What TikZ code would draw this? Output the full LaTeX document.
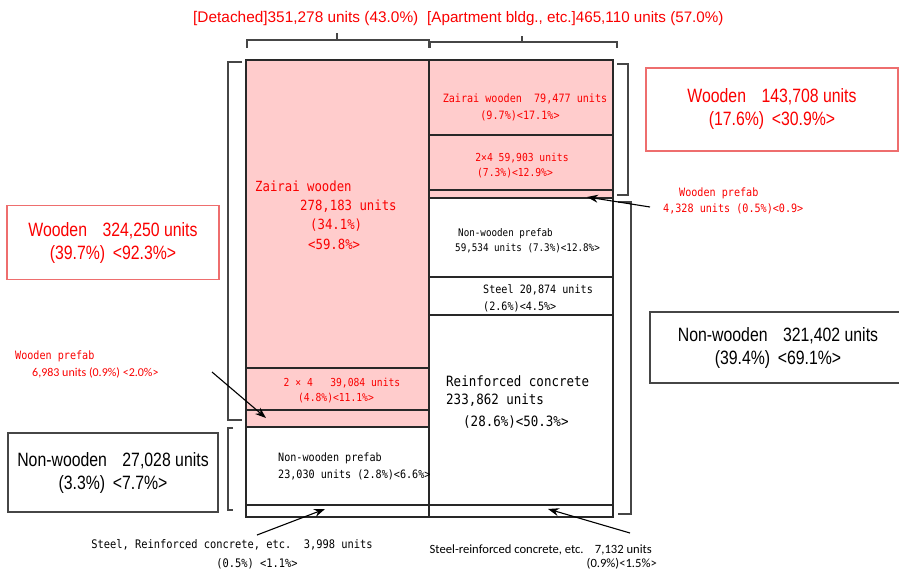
\documentclass[tikz,border=0pt]{standalone}
\usepackage{fontspec}
\setmainfont{Liberation Sans}
\newfontfamily\boxfont[FakeStretch=0.82]{Liberation Sans}
\newfontfamily\gothic[FakeStretch=0.88]{DejaVu Sans Mono}
\newfontfamily\calib{Carlito}
\usetikzlibrary{arrows.meta}
\definecolor{pinkc}{RGB}{255,204,204}
\definecolor{redt}{RGB}{250,0,0}
\definecolor{redbox}{RGB}{238,110,110}
\definecolor{cellline}{RGB}{40,40,40}
\definecolor{brk}{RGB}{70,70,70}
\tikzset{
  cellbox/.style={draw=cellline, line width=1.1pt},
  pinkbox/.style={cellbox, fill=pinkc},
  bracketline/.style={draw=brk, line width=1.1pt},
  sumred/.style={draw=redbox, line width=1.3pt, text=redt, align=center, inner sep=0pt,
    font=\boxfont\fontsize{19.3}{23}\selectfont},
  sumblack/.style={draw=brk, line width=1.3pt, text=black, align=center, inner sep=0pt,
    font=\boxfont\fontsize{19.3}{23}\selectfont},
  lbl/.style={inner sep=0pt, anchor=west, align=left},
  clbl/.style={inner sep=0pt, align=center},
  ptr/.style={draw=black, line width=1.1pt, -{Stealth[length=11pt,width=8pt]}},
}
\begin{document}
\begin{tikzpicture}[x=1pt,y=-1pt]
\useasboundingbox (0,0) rectangle (899,571);

% ---- left column (detached)
\draw[pinkbox] (246,60) rectangle (429,368);
\draw[pinkbox] (246,368) rectangle (429,410);
\draw[pinkbox] (246,410) rectangle (429,427);
\draw[cellbox] (246,427) rectangle (429,505);
\draw[cellbox] (246,505) rectangle (429,517);
% ---- right column (apartments)
\draw[pinkbox] (429,60) rectangle (613,135);
\draw[pinkbox] (429,135) rectangle (613,190);
\draw[pinkbox] (429,190) rectangle (613,198);
\draw[cellbox] (429,198) rectangle (613,277);
\draw[cellbox] (429,277) rectangle (613,315);
\draw[cellbox] (429,315) rectangle (613,505);
\draw[cellbox] (429,505) rectangle (613,517);

% ---- brackets
\draw[bracketline] (247,48) -- (247,40) -- (429,40) -- (429,48);
\draw[bracketline] (337,40) -- (337,33);
\draw[bracketline] (430,48) -- (430,42) -- (617,42) -- (617,48);
\draw[bracketline] (522,42) -- (522,36);
\draw[bracketline] (242,62) -- (228,62) -- (228,420) -- (242,420);
\draw[bracketline] (233,428) -- (228,428) -- (228,510) -- (233,510);
\draw[bracketline] (617,64) -- (628,64) -- (628,195) -- (617,195);
\draw[bracketline] (618,202) -- (631,202) -- (631,514) -- (618,514);

% ---- title
\node[inner sep=0pt, anchor=west, text=redt, font=\fontsize{15.4}{18}\selectfont] (tdet) at (193,19) {[Detached]351,278 units (43.0\%)};
\node[inner sep=0pt, anchor=west, text=redt, font=\fontsize{15.2}{18}\selectfont] (tapt) at (427,19) {[Apartment bldg., etc.]465,110 units (57.0\%)};

% ---- cell texts
\node[lbl, text=redt, font=\gothic\fontsize{14}{19.3}\selectfont] (lzai) at (255,215)
  {Zairai wooden\\\hspace*{45pt}278,183 units\\\hspace*{55pt}(34.1\%)\\\hspace*{53pt}<59.8\%>};
\node[clbl, text=redt, font=\gothic\fontsize{11}{15}\selectfont] (l24) at (342,390.5)
  {2 × 4~~~39,084 units\\\hspace*{-12pt}(4.8\%)<11.1\%>};
\node[lbl, font=\gothic\fontsize{11.5}{17}\selectfont] (lnwp) at (278,466.5)
  {Non-wooden prefab\\23,030 units (2.8\%)<6.6\%>};

\node[clbl, text=redt, font=\gothic\fontsize{11.5}{17}\selectfont] (rzai) at (525,107.5)
  {Zairai wooden~~79,477 units\\\hspace*{-10pt}(9.7\%)<17.1\%>};
\node[clbl, text=redt, font=\gothic\fontsize{11}{15}\selectfont] (r24) at (522,165.5)
  {2×4 59,903 units\\\hspace*{-14pt}(7.3\%)<12.9\%>};
\node[lbl, font=\gothic\fontsize{10.5}{15}\selectfont] (rnwp) at (455,240.5)
  {\hspace*{3pt}Non-wooden prefab\\59,534 units (7.3\%)<12.8\%>};
\node[lbl, font=\gothic\fontsize{11.5}{17}\selectfont] (rstl) at (483,298.5)
  {Steel 20,874 units\\(2.6\%)<4.5\%>};
\node[lbl, font=\gothic\fontsize{14.2}{18}\selectfont] (rrc) at (446,402)
  {Reinforced concrete\\233,862 units\\[4pt]\hspace*{17pt}(28.6\%)<50.3\%>};

% ---- summary boxes
\node[sumred, minimum width=252pt, minimum height=83pt] (bwr) at (772,109.5)
  {Wooden\hspace{0.8em}143,708 units\\(17.6\%)\hspace{0.4em}<30.9\%>};
\node[sumred, minimum width=212pt, minimum height=74pt] (bwl) at (113,242.5)
  {Wooden\hspace{0.8em}324,250 units\\(39.7\%)\hspace{0.4em}<92.3\%>};
\node[sumblack, minimum width=256pt, minimum height=71pt] (bnr) at (778,347.5)
  {Non-wooden\hspace{0.8em}321,402 units\\(39.4\%)\hspace{0.4em}<69.1\%>};
\node[sumblack, minimum width=210pt, minimum height=79pt] (bnl) at (113,472.5)
  {Non-wooden\hspace{0.8em}27,028 units\\(3.3\%)\hspace{0.4em}<7.7\%>};

% ---- pointer labels
\node[lbl, text=redt, font=\gothic\fontsize{11.5}{16}\selectfont] (rwp) at (663,201)
  {\hspace*{16pt}Wooden prefab\\4,328 units (0.5\%)<0.9>};
\node[lbl, text=redt, font=\gothic\fontsize{11.5}{17}\selectfont] (lwp) at (15,364.5)
  {Wooden prefab\\\hspace*{17pt}{\calib\fontsize{12}{17}\selectfont 6,983 units (0.9\%) <2.0\%>}};
\node[clbl, font=\gothic\fontsize{11.8}{19}\selectfont] (lsrc) at (232,554)
  {Steel, Reinforced concrete, etc.~~3,998 units\\\hspace*{50pt}(0.5\%) <1.1\%>};
\node[inner sep=0pt, align=right, anchor=east, font=\calib\fontsize{12.6}{14.5}\selectfont] (rsrc) at (657,557)
  {Steel-reinforced concrete, etc.\hspace{0.9em}7,132 units\hspace*{5pt}\\(0.9\%)<1.5\%>};

% ---- pointer targets
\coordinate (trwp) at (587,197);
\coordinate (tlwp) at (266,418);
\coordinate (tlsrc) at (325,509);
\coordinate (trsrc) at (548,509);
\coordinate (srwp) at (650,207);
\coordinate (slwp) at (212,372);
\coordinate (slsrc) at (257,535);
\coordinate (srsrc) at (630,533);

\draw[ptr] (srwp) -- (trwp);
\draw[ptr] (slwp) -- (tlwp);
\draw[ptr] (slsrc) -- (tlsrc);
\draw[ptr] (srsrc) -- (trsrc);
\end{tikzpicture}
\end{document}
